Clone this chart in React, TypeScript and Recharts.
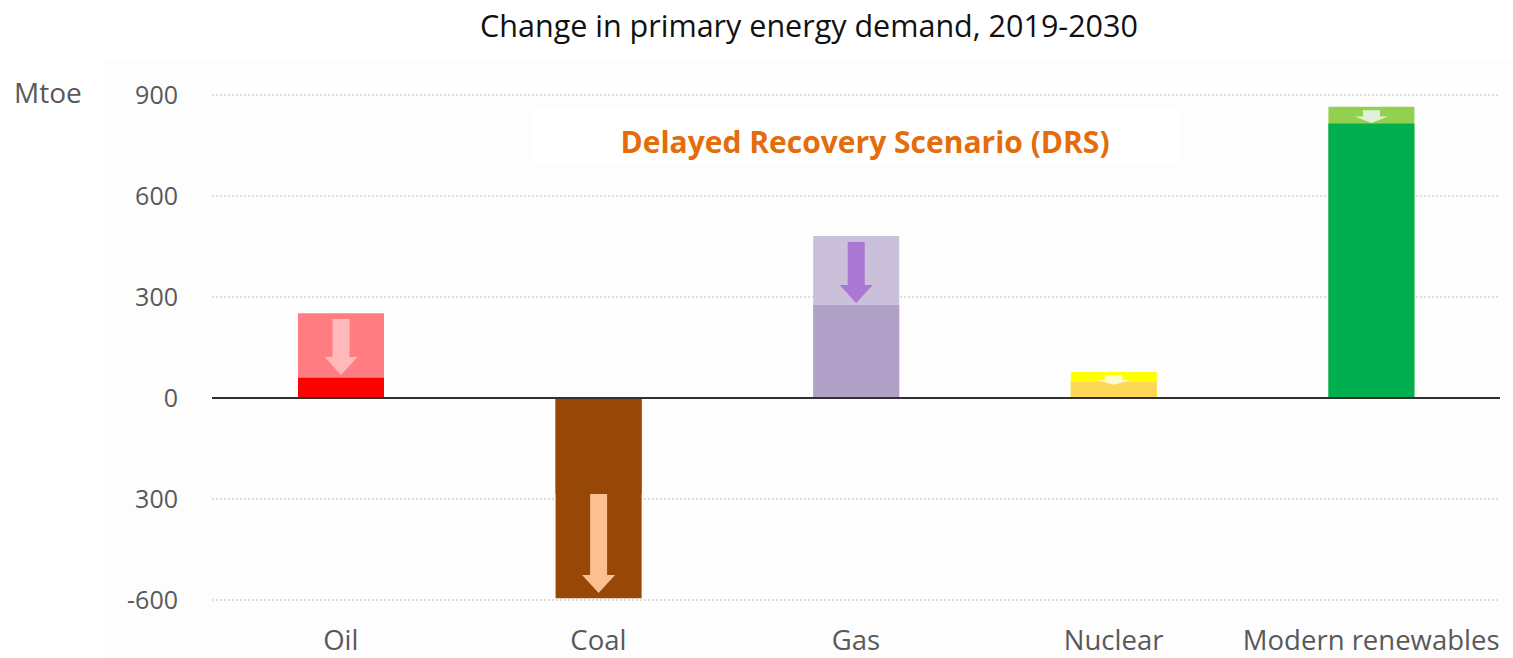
import React from 'react';
import { ComposedChart, Bar, XAxis, YAxis, CartesianGrid, ReferenceLine, Cell } from 'recharts';

const categories = ['Oil', 'Coal', 'Gas', 'Nuclear', 'Modern renewables'];
// Stated (lighter, taller) and Delayed Recovery Scenario values, Mtoe
const statedValues = [252, -285, 481, 77, 865];
const drsValues = [60, -595, 276, 48, 815];
// Arrow extents (from -> to), Mtoe
const arrowStart = [235, -285, 463, 68, 855];
const arrowEnd = [68, -579, 282, 39, 817];

const yTicks = [-600, -300, 0, 300, 600, 900];
const yTickLabels = ['-600', '300', '0', '300', '600', '900'];

const statedColors = ['#FF7C80', '#974706', '#CAC0DA', '#FFFF00', '#92D050'];
const drsColors = ['#FF0000', '#974706', '#B1A0C7', '#FFD757', '#00B050'];
const arrowColors = ['#FFB9BB', '#FAC090', '#AA77D3', '#FFFCD0', '#E2F0D9'];

const data = categories.map((name, i) => ({
  name,
  stated: statedValues[i],
  drs: drsValues[i],
  arrow: [arrowEnd[i], arrowStart[i]],
}));

const FONT = '"Open Sans", "Noto Sans", sans-serif';
const BAR = 86;

const ArrowShape = (props: any) => {
  const { x, y, width, height, payload } = props;
  const index = categories.indexOf(payload?.name);
  const top = Math.min(y, y + height);
  const bottom = Math.max(y, y + height);
  const len = bottom - top;
  const cx = x + width / 2;
  const shaftW = 17;
  const headW = 33;
  const headH = Math.min(18, len * 0.5);
  const neck = bottom - headH;
  const d = `M${cx - shaftW / 2},${top} L${cx + shaftW / 2},${top} L${cx + shaftW / 2},${neck} L${cx + headW / 2},${neck} L${cx},${bottom} L${cx - headW / 2},${neck} L${cx - shaftW / 2},${neck} Z`;
  return <path d={d} fill={arrowColors[index]} />;
};

export default function App() {
  return (
    <div style={{ position: 'absolute', left: 0, top: 0, width: 1513, height: 658, background: '#ffffff', fontFamily: FONT }}>
      <div style={{ position: 'absolute', left: 105, top: 60, width: 1408, height: 598, background: '#FDFDFD' }} />
      <div style={{ position: 'absolute', left: 0, top: 0 }}>
        <ComposedChart
          width={1513}
          height={658}
          data={data}
          barGap={-BAR}
          margin={{ top: 95, right: 13, bottom: 0, left: 132 }}
        >
          <CartesianGrid horizontal vertical={false} stroke="#BFBFBF" strokeDasharray="2 2" />
          <XAxis
            dataKey="name"
            type="category"
            height={58}
            axisLine={false}
            tickLine={false}
            tickSize={0}
            tickMargin={30}
            interval={0}
            tick={{ fill: '#595959', fontSize: 27.5, fontFamily: FONT }}
          />
          <YAxis
            type="number"
            domain={[-600, 900]}
            ticks={yTicks}
            width={80}
            axisLine={false}
            tickLine={false}
            tickSize={0}
            tickMargin={34}
            interval={0}
            tickFormatter={(v: number) => yTickLabels[yTicks.indexOf(v)]}
            tick={{ fill: '#595959', fontSize: 25, fontFamily: FONT }}
          />
          <Bar dataKey="stated" barSize={BAR} isAnimationActive={false}>
            {data.map((d, i) => (
              <Cell key={d.name} fill={statedColors[i]} />
            ))}
          </Bar>
          <Bar dataKey="drs" barSize={BAR} isAnimationActive={false}>
            {data.map((d, i) => (
              <Cell key={d.name} fill={drsColors[i]} />
            ))}
          </Bar>
          <Bar dataKey="arrow" barSize={BAR} isAnimationActive={false} shape={ArrowShape} />
          <ReferenceLine y={0} stroke="#303030" strokeWidth={2} />
        </ComposedChart>
      </div>
      <div style={{ position: 'absolute', left: 809, top: 25, transform: 'translate(-50%, -50%)', whiteSpace: 'nowrap', fontSize: 30.5, color: '#111111' }}>
        Change in primary energy demand, 2019-2030
      </div>
      <div style={{ position: 'absolute', left: 14, top: 92, transform: 'translateY(-50%)', whiteSpace: 'nowrap', fontSize: 28, color: '#595959' }}>
        Mtoe
      </div>
      <div style={{ position: 'absolute', left: 530, top: 108, width: 650, height: 57, background: '#ffffff' }} />
      <div style={{ position: 'absolute', left: 865, top: 141, transform: 'translate(-50%, -50%)', whiteSpace: 'nowrap', fontSize: 30, fontWeight: 700, color: '#E46C0A' }}>
        Delayed Recovery Scenario (DRS)
      </div>
    </div>
  );
}
